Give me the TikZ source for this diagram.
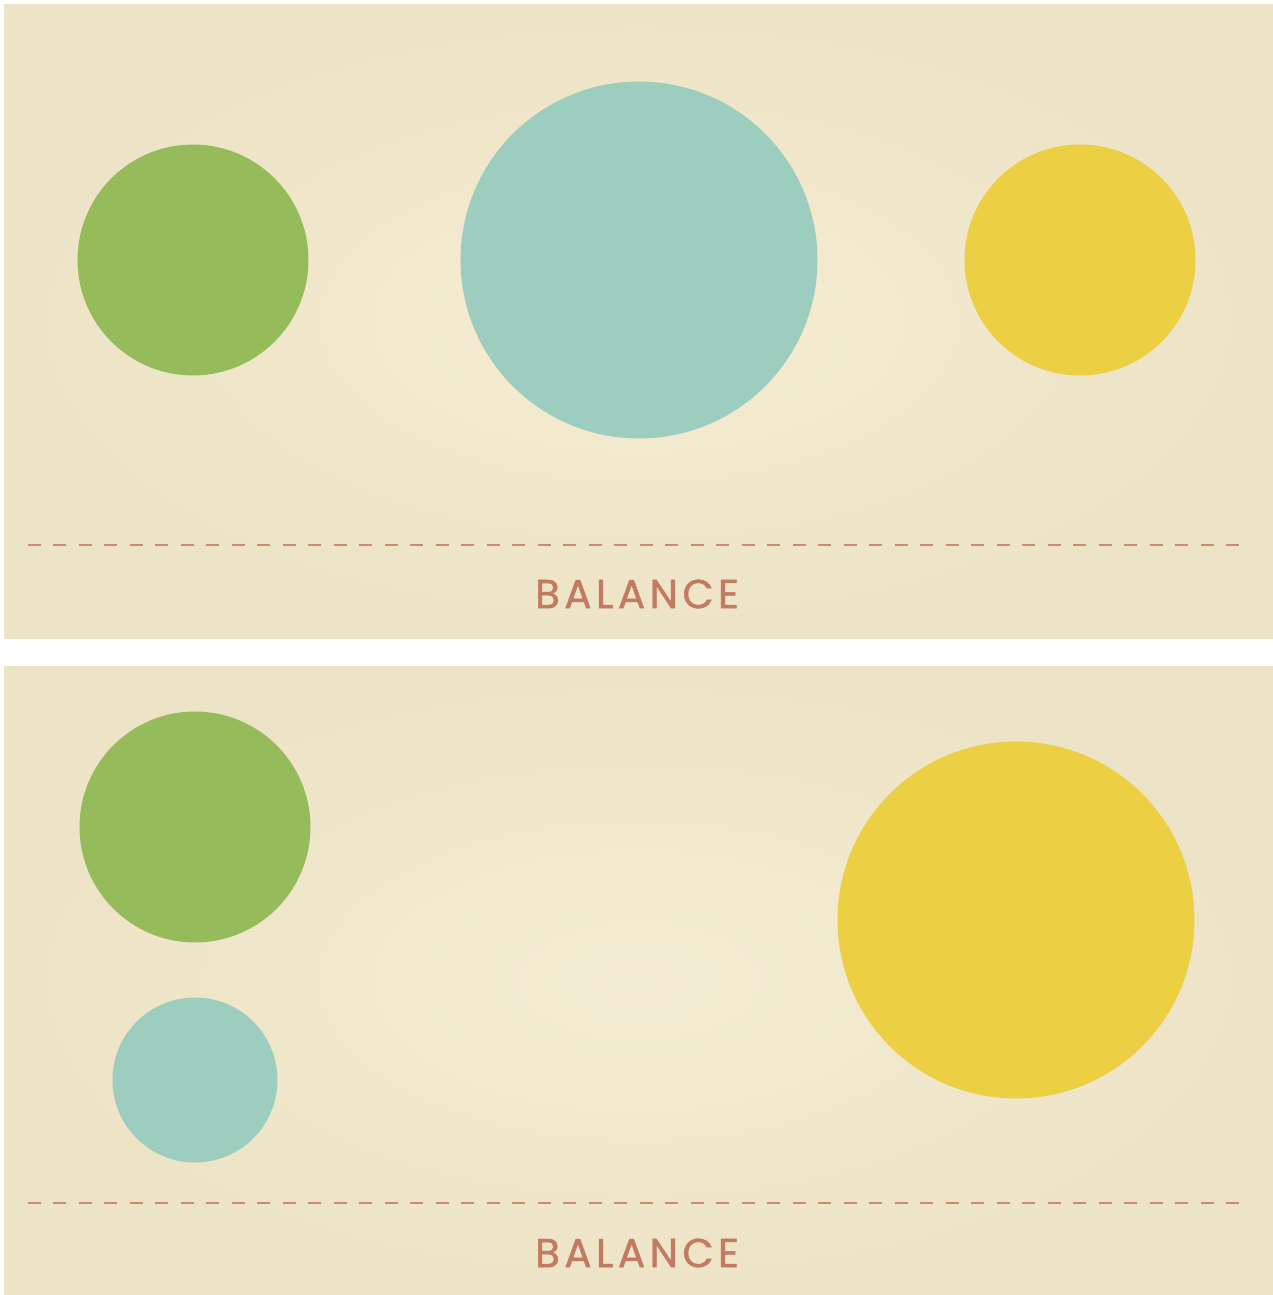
\documentclass[tikz,border=0pt]{standalone}
\usepackage{fontspec}
\newfontfamily\balfont[LetterSpace=11, FakeBold=1.2]{Poppins}
\definecolor{paper}{RGB}{245,237,211}
\definecolor{paperedge}{RGB}{237,227,198}
\definecolor{leafgreen}{RGB}{150,187,90}
\definecolor{seateal}{RGB}{156,205,190}
\definecolor{sunyellow}{RGB}{236,207,66}
\definecolor{clay}{RGB}{194,122,96}
\tikzset{
  dot/.style={circle, draw=none, inner sep=0pt},
  baseline/.style={clay!85!paper, line width=1.3pt, dash pattern=on 0.26cm off 0.25cm},
  caption/.style={font=\balfont\fontsize{23}{25}\selectfont, text=clay}
}
\begin{document}
\begin{tikzpicture}[x=0.02cm, y=-0.02cm]
\useasboundingbox[fill=white] (0,0) rectangle (1273,1295);

% top panel
\shade[inner color=paper, outer color=paperedge] (4,4) rectangle (1273,638);
\node[dot, fill=leafgreen, minimum size=4.62cm] (green1) at (193,260) {};
\node[dot, fill=seateal, minimum size=7.14cm] (teal1) at (639,260) {};
\node[dot, fill=sunyellow, minimum size=4.62cm] (yellow1) at (1080,260) {};
\draw[baseline] (28,545) -- (1240,545);
\node[caption] (bal1) at (637,594) {BALANCE};

% bottom panel
\shade[inner color=paper, outer color=paperedge] (4,666) rectangle (1273,1295);
\node[dot, fill=leafgreen, minimum size=4.62cm] (green2) at (195,827) {};
\node[dot, fill=seateal, minimum size=3.30cm] (teal2) at (195,1080) {};
\node[dot, fill=sunyellow, minimum size=7.14cm] (yellow2) at (1016,920) {};
\draw[baseline] (28,1203) -- (1240,1203);
\node[caption] (bal2) at (637,1253) {BALANCE};
\end{tikzpicture}
\end{document}
